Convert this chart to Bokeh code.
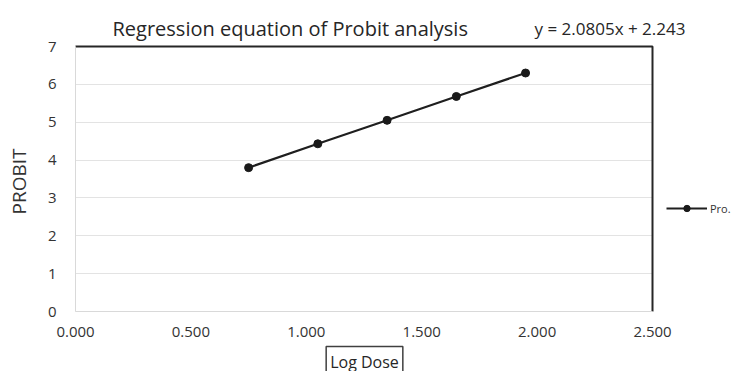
import math
from bokeh.plotting import figure
from bokeh.models import (Range1d, FixedTicker, Legend, LegendItem, Label,
                          LinearAxis, Grid)
from bokeh.embed import file_html
from bokeh.resources import INLINE

# Data
log_dose = [0.75, 1.05, 1.35, 1.65, 1.95]
probit = [3.80, 4.43, 5.05, 5.68, 6.30]
x_ticks = [0.0, 0.5, 1.0, 1.5, 2.0, 2.5]
y_ticks = [0, 1, 2, 3, 4, 5, 6, 7]
title_text = "Regression equation of Probit analysis"
equation_text = "y = 2.0805x + 2.243"
series_name = "Pro."
x_title = "Log Dose"
y_title = "PROBIT"

FONT = "Open Sans"
TXT = "#333333"
DARK = "#262626"

# canvas and plot-area geometry (pixels inside the figure)
W, H = 736, 371
PA_L, PA_R, PA_T, PA_B = 75, 652, 46, 311
x0, x1 = x_ticks[0], x_ticks[-1]
y0, y1 = y_ticks[0], y_ticks[-1]
sx = (PA_R - PA_L) / (x1 - x0)
sy = (PA_B - PA_T) / (y1 - y0)
x_range = Range1d(x0 - PA_L / sx, x1 + (W - PA_R) / sx)
y_range = Range1d(y0 - (H - PA_B) / sy, y1 + PA_T / sy)


def dx(px):
    return x_range.start + px / sx


def dy(py):
    return y_range.end - py / sy


p = figure(width=W, height=H, output_backend="svg", toolbar_location=None,
           x_range=x_range, y_range=y_range, x_axis_type=None, y_axis_type=None,
           min_border=0)
p.outline_line_color = None
p.background_fill_color = "white"
p.border_fill_color = "white"

# axes at the plot-area edges
xaxis = LinearAxis(fixed_location=y0, bounds=(x0, x1), ticker=FixedTicker(ticks=x_ticks),
                   major_label_overrides={t: f"{t:.3f}" for t in x_ticks})
yaxis = LinearAxis(fixed_location=x0, bounds=(y0, y1), ticker=FixedTicker(ticks=y_ticks))
for ax in (xaxis, yaxis):
    ax.axis_line_color = "#d9d9d9"
    ax.axis_line_width = 1
    ax.major_tick_line_color = None
    ax.major_tick_out = 0
    ax.major_tick_in = 0
    ax.minor_tick_line_color = None
    ax.minor_tick_out = 0
    ax.major_label_text_font = FONT
    ax.major_label_text_font_size = "15px"
    ax.major_label_text_color = TXT
xaxis.major_label_standoff = 15
yaxis.major_label_standoff = 19
p.add_layout(xaxis, "below")
p.add_layout(yaxis, "left")

grid = Grid(dimension=1, ticker=yaxis.ticker, cross_bounds=(x0, x1),
            grid_line_color="#e3e3e3", grid_line_width=1)
p.add_layout(grid)

# dark top and right border of the plot area
p.line([x0, x1, x1], [y1, y1, y0], line_color=DARK, line_width=2)

# series
ln = p.line(log_dose, probit, line_color="#1f1f1f", line_width=2.2)
sc = p.scatter(log_dose, probit, size=8, fill_color="#1a1a1a", line_color="#1a1a1a")

legend = Legend(items=[LegendItem(label=series_name, renderers=[ln, sc])],
                location=(666, 155), padding=0, margin=0, glyph_width=41, glyph_height=16,
                label_standoff=3, border_line_color=None, background_fill_alpha=0,
                label_text_font=FONT, label_text_font_size="11px", label_text_color=TXT)
p.add_layout(legend, "center")

# chart title and trendline equation
p.add_layout(Label(x=dx(112), y=dy(28), text=title_text, text_align="left",
                   text_baseline="alphabetic", text_font=FONT, text_font_size="20px",
                   text_color=DARK))
p.add_layout(Label(x=dx(534), y=dy(28), text=equation_text, text_align="left",
                   text_baseline="alphabetic", text_font=FONT, text_font_size="17px",
                   text_color=DARK))

# axis titles
p.add_layout(Label(x=dx(18), y=dy(181), text=y_title, angle=math.pi / 2,
                   text_align="center", text_baseline="middle", text_font=FONT,
                   text_font_size="19px", text_color=TXT))
p.add_layout(Label(x=dx(364), y=dy(361), text=x_title, text_align="center",
                   text_baseline="alphabetic", text_font=FONT, text_font_size="16px",
                   text_color=DARK, border_line_color="#404040", border_line_width=1.5,
                   background_fill_color="white", padding=4))

open("out.html", "w").write(file_html(p, INLINE))
